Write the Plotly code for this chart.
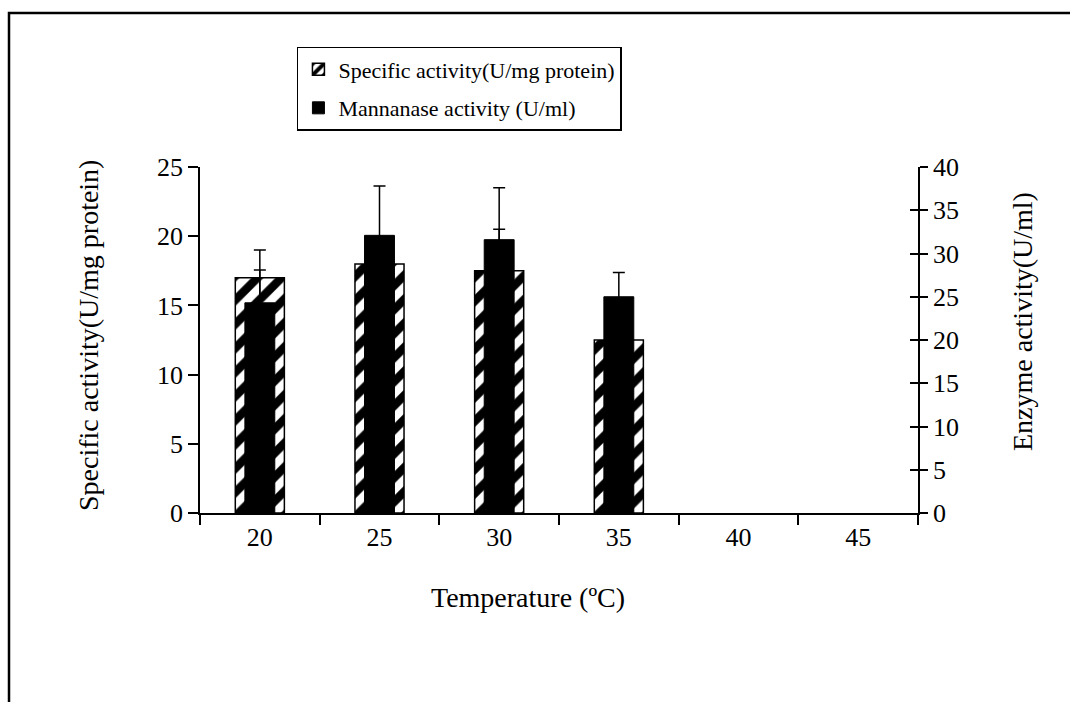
import plotly.graph_objects as go

temperatures = ["20", "25", "30", "35", "40", "45"]
specific_activity = [17.0, 18.0, 17.5, 12.5, None, None]
specific_err = [2.0, 1.5, 3.0, 1.0, None, None]
enzyme_activity = [24.3, 32.1, 31.6, 25.0, None, None]
enzyme_err = [3.8, 5.7, 6.0, 2.8, None, None]

left_ticks = [0, 5, 10, 15, 20, 25]
right_ticks = [0, 5, 10, 15, 20, 25, 30, 35, 40]

FONT = "Liberation Serif, Times New Roman, serif"

fig = go.Figure()
fig.add_trace(go.Bar(
    x=temperatures, y=specific_activity, name="Specific activity(U/mg protein)",
    width=0.41, legendgroup="a",
    marker=dict(color="white", line=dict(color="black", width=1.5),
                pattern=dict(shape="/", fgcolor="black", bgcolor="white", fgopacity=1,
                             size=17, solidity=0.5)),
    error_y=dict(type="data", array=specific_err, visible=True, color="black", thickness=1.5, width=6),
    yaxis="y",
))
fig.add_trace(go.Bar(
    x=temperatures, y=enzyme_activity, name="Mannanase activity (U/ml)",
    width=0.25, legendgroup="b",
    marker=dict(color="black", line=dict(color="black", width=1)),
    error_y=dict(type="data", array=enzyme_err, visible=True, color="black", thickness=1.5, width=6),
    yaxis="y2",
))
# invisible trace for inward ticks on the right axis (crossing ticks)
fig.add_trace(go.Scatter(x=[temperatures[0]], y=[None], yaxis="y3", showlegend=False, hoverinfo="skip"))

fig.update_layout(
    width=1070, height=702,
    margin=dict(l=200, r=152, t=167, b=189),
    paper_bgcolor="white", plot_bgcolor="white",
    barmode="overlay",
    font=dict(family=FONT, color="black", size=26),
    showlegend=True,
    legend=dict(x=0.135, y=1.347, xanchor="left", yanchor="top",
                bordercolor="black", borderwidth=1.5, bgcolor="white",
                font=dict(family=FONT, size=22, color="black"),
                traceorder="grouped", tracegroupgap=7),
    xaxis=dict(type="category", range=[-0.5, 5.5], showline=True, linecolor="black", linewidth=1.5,
               ticks="outside", tickson="boundaries", ticklen=10, tickwidth=1.5, tickcolor="black",
               showgrid=False, zeroline=False, tickfont=dict(size=26)),
    yaxis=dict(range=[0, 25], tickvals=left_ticks, showline=True, linecolor="black", linewidth=1.5,
               ticks="outside", ticklen=10, tickwidth=1.5, tickcolor="black",
               showgrid=False, zeroline=False, tickfont=dict(size=26)),
    yaxis2=dict(range=[0, 40], tickvals=right_ticks, overlaying="y", side="right",
                showline=True, linecolor="black", linewidth=1.5,
                ticks="outside", ticklen=8, tickwidth=1.5, tickcolor="black",
                showgrid=False, zeroline=False, tickfont=dict(size=26)),
    yaxis3=dict(range=[0, 40], tickvals=right_ticks, overlaying="y", side="right",
                showline=False, ticks="inside", ticklen=8, tickwidth=1.5, tickcolor="black",
                showticklabels=False, showgrid=False, zeroline=False),
    annotations=[
        dict(text="Temperature (ºC)", xref="paper", yref="paper", x=(528 - 200) / 718, y=(513 - 597) / 346,
             showarrow=False, font=dict(size=28), xanchor="center", yanchor="middle"),
        dict(text="Specific activity(U/mg protein)", xref="paper", yref="paper", x=(88 - 200) / 718,
             y=(513 - 336) / 346, textangle=-90, showarrow=False, font=dict(size=28),
             xanchor="center", yanchor="middle"),
        dict(text="Enzyme activity(U/ml)", xref="paper", yref="paper", x=(1022 - 200) / 718,
             y=(513 - 322) / 346, textangle=-90, showarrow=False, font=dict(size=28),
             xanchor="center", yanchor="middle"),
    ],
    shapes=[
        dict(type="rect", xref="paper", yref="paper", x0=(9 - 200) / 718, x1=1.5,
             y0=-1.0, y1=(513 - 13) / 346, line=dict(color="black", width=2.5), fillcolor="rgba(0,0,0,0)",
             layer="below"),
    ],
)

fig.write_html("out.html")
